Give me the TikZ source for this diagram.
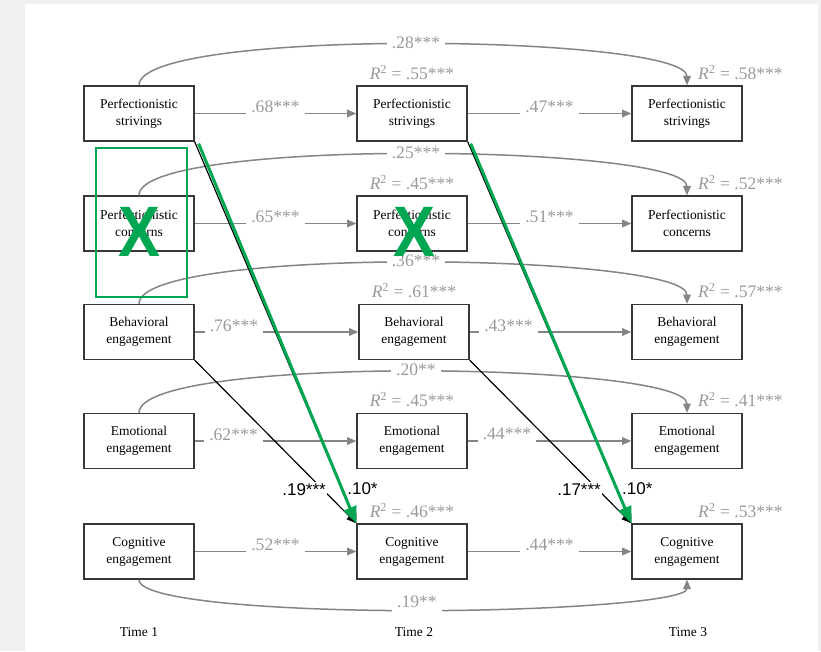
\documentclass[tikz,border=0pt]{standalone}
\usepackage{fontspec}
\setmainfont{Liberation Serif}
\newfontfamily\arialfont{Liberation Sans}
\usetikzlibrary{arrows.meta,positioning}
\definecolor{pagegray}{HTML}{F0F0F0}
\definecolor{pathgray}{HTML}{858585}
\definecolor{labelgray}{HTML}{9A9A9A}
\definecolor{boxgray}{HTML}{383838}
\definecolor{markgreen}{HTML}{00A651}

\begin{document}
\begin{tikzpicture}[
    var/.style={draw=boxgray, line width=0.04cm, minimum width=3.3cm, minimum height=1.65cm,
      inner sep=0pt, align=center, font=\fontsize{11.5}{14.5}\selectfont},
    stab/.style={draw=pathgray, line width=0.045cm, -{Triangle[length=0.28cm,width=0.23cm]}},
    coef/.style={text=labelgray, fill=white, font=\fontsize{15}{15}\selectfont,
      inner xsep=0.15cm, inner ysep=0.1cm, yshift=0.2cm},
    coeftop/.style={coef, yshift=-0.17cm},
    coefbot/.style={coef, inner ysep=0.13cm, yshift=0.07cm},
    rsq/.style={text=labelgray, font=\fontsize{15}{15}\selectfont, inner sep=0pt},
    cross/.style={draw=black, line width=0.035cm, -{Triangle[length=0.3cm,width=0.24cm]}},
    crosslbl/.style={font=\arialfont\fontsize{14.5}{15}\selectfont, inner sep=0.05cm},
    greenarrow/.style={draw=markgreen, line width=0.09cm, -{Triangle[length=0.5cm,width=0.4cm]}},
    greenbox/.style={draw=markgreen, line width=0.06cm},
    greenx/.style={text=markgreen, inner sep=0pt, font=\arialfont\bfseries\fontsize{61}{61}\selectfont},
    timelbl/.style={font=\fontsize{11.5}{14}\selectfont}
  ]
  % Page and grey margin
  \useasboundingbox (0,0) rectangle (24.630000,19.530000);
  \fill[pagegray] (0,0) rectangle (24.630000,19.530000);%
  \fill[white] (0.750000,0) rectangle (24.540000,19.410000);%

  % Boxes, time 1
  \node[var] (ps1) at (4.170000,16.125000) {Perfectionistic\\strivings};%
  \node[var] (pc1) at (4.170000,12.825000) {Perfectionistic\\concerns};%
  \node[var] (be1) at (4.170000,9.570000) {Behavioral\\engagement};%
  \node[var] (ee1) at (4.170000,6.300000) {Emotional\\engagement};%
  \node[var] (ce1) at (4.170000,2.985000) {Cognitive\\engagement};%

  % Boxes, time 2
  \node[var] (ps2) at (12.360000,16.125000) {Perfectionistic\\strivings};%
  \node[var] (pc2) at (12.360000,12.825000) {Perfectionistic\\concerns};%
  \node[var] (be2) at (12.420000,9.570000) {Behavioral\\engagement};%
  \node[var] (ee2) at (12.360000,6.300000) {Emotional\\engagement};%
  \node[var] (ce2) at (12.360000,2.985000) {Cognitive\\engagement};%

  % Boxes, time 3
  \node[var] (ps3) at (20.610000,16.125000) {Perfectionistic\\strivings};%
  \node[var] (pc3) at (20.610000,12.825000) {Perfectionistic\\concerns};%
  \node[var] (be3) at (20.610000,9.570000) {Behavioral\\engagement};%
  \node[var] (ee3) at (20.610000,6.300000) {Emotional\\engagement};%
  \node[var] (ce3) at (20.610000,2.985000) {Cognitive\\engagement};%

  % Time labels
  \node[timelbl] (time1) at (4.170000,0.570000) {Time 1};%
  \node[timelbl] (time2) at (12.420000,0.570000) {Time 2};%
  \node[timelbl] (time3) at (20.640000,0.570000) {Time 3};%

  % Explained variance, time 2
  \node[rsq, anchor=base] (rps2) at ([yshift=0.18cm]ps2.north) {\textit{R}\textsuperscript{2} = .55***};%
  \node[rsq, anchor=base] (rpc2) at ([yshift=0.18cm]pc2.north) {\textit{R}\textsuperscript{2} = .45***};%
  \node[rsq, anchor=base] (rbe2) at ([yshift=0.18cm]be2.north) {\textit{R}\textsuperscript{2} = .61***};%
  \node[rsq, anchor=base] (ree2) at ([yshift=0.18cm]ee2.north) {\textit{R}\textsuperscript{2} = .45***};%
  \node[rsq, anchor=base] (rce2) at ([yshift=0.18cm]ce2.north) {\textit{R}\textsuperscript{2} = .46***};%

  % Explained variance, time 3
  \node[rsq, anchor=base west] (rps3) at ([xshift=0.33cm,yshift=0.18cm]ps3.north) {\textit{R}\textsuperscript{2} = .58***};%
  \node[rsq, anchor=base west] (rpc3) at ([xshift=0.33cm,yshift=0.18cm]pc3.north) {\textit{R}\textsuperscript{2} = .52***};%
  \node[rsq, anchor=base west] (rbe3) at ([xshift=0.33cm,yshift=0.18cm]be3.north) {\textit{R}\textsuperscript{2} = .57***};%
  \node[rsq, anchor=base west] (ree3) at ([xshift=0.33cm,yshift=0.18cm]ee3.north) {\textit{R}\textsuperscript{2} = .41***};%
  \node[rsq, anchor=base west] (rce3) at ([xshift=0.33cm,yshift=0.18cm]ce3.north) {\textit{R}\textsuperscript{2} = .53***};%

  % Stability paths, time 1 to time 2
  \draw[stab] (ps1) -- node[coef] {.68***} (ps2);%
  \draw[stab] (pc1) -- node[coef] {.65***} (pc2);%
  \draw[stab] (be1) -- node[coef, pos=.24] {.76***} (be2);%
  \draw[stab] (ee1) -- node[coef, pos=.24] {.62***} (ee2);%
  \draw[stab] (ce1) -- node[coef] {.52***} (ce2);%

  % Stability paths, time 2 to time 3
  \draw[stab] (ps2) -- node[coef] {.47***} (ps3);%
  \draw[stab] (pc2) -- node[coef] {.51***} (pc3);%
  \draw[stab] (be2) -- node[coef, pos=.24] {.43***} (be3);%
  \draw[stab] (ee2) -- node[coef, pos=.24] {.44***} (ee3);%
  \draw[stab] (ce2) -- node[coef] {.44***} (ce3);%

  % Paths from time 1 to time 3
  \coordinate (tps) at ([xshift=0.12cm,yshift=1.26cm]ps2.north);
  \coordinate (tpc) at ([xshift=0.12cm,yshift=1.26cm]pc2.north);
  \coordinate (tbe) at ([xshift=0.06cm,yshift=1.26cm]be2.north);
  \coordinate (tee) at ([xshift=0.12cm,yshift=1.26cm]ee2.north);
  \coordinate (tce) at ([xshift=0.15cm,yshift=-0.93cm]ce2.south);
  \draw[stab] (ps1.north) .. controls +(0,0.9) and +(-4,0) .. (tps) node[coeftop] {.28***}
    .. controls +(4,0) and +(0,0.9) .. (ps3.north);%
  \draw[stab] (pc1.north) .. controls +(0,0.9) and +(-4,0) .. (tpc) node[coeftop] {.25***}
    .. controls +(4,0) and +(0,0.9) .. (pc3.north);%
  \draw[stab] (be1.north) .. controls +(0,0.9) and +(-4,0) .. (tbe) node[coeftop] {.36***}
    .. controls +(4,0) and +(0,0.9) .. (be3.north);%
  \draw[stab] (ee1.north) .. controls +(0,0.9) and +(-4,0) .. (tee) node[coeftop] {.20**}
    .. controls +(4,0) and +(0,0.9) .. (ee3.north);%
  \draw[stab] (ce1.south) .. controls +(0,-0.65) and +(-4,0) .. (tce) node[coefbot] {.19**}
    .. controls +(4,0) and +(0,-0.65) .. (ce3.south);%

  % Cross-lagged paths to cognitive engagement
  \draw[cross] (ps1.south east) -- node[crosslbl, pos=.91, anchor=west, xshift=0.1cm] {.10*} (ce2.north west);%
  \draw[cross] (be1.south east) -- node[crosslbl, fill=white, pos=.794, anchor=east, xshift=0.15cm] {.19***} (ce2.north west);%
  \draw[cross] (ps2.south east) -- node[crosslbl, pos=.91, anchor=west, xshift=0.1cm] {.10*} (ce3.north west);%
  \draw[cross] (be2.south east) -- node[crosslbl, fill=white, pos=.794, anchor=east, xshift=0.15cm] {.17***} (ce3.north west);%

  % Green marks
  \draw[greenarrow] ([shift={(0.12,-0.06)}]ps1.south east) -- (ce2.north west);%
  \draw[greenarrow] ([shift={(0.09,-0.06)}]ps2.south east) -- (ce3.north west);%
  \draw[greenbox] (2.880000,15.090000) rectangle (5.610000,10.620000);%
  \node[greenx] (xpc1) at (4.170000,12.560000) {\scalebox{0.88}[1]{X}};%
  \node[greenx] (xpc2) at (12.420000,12.560000) {\scalebox{0.88}[1]{X}};%
\end{tikzpicture}
\end{document}
